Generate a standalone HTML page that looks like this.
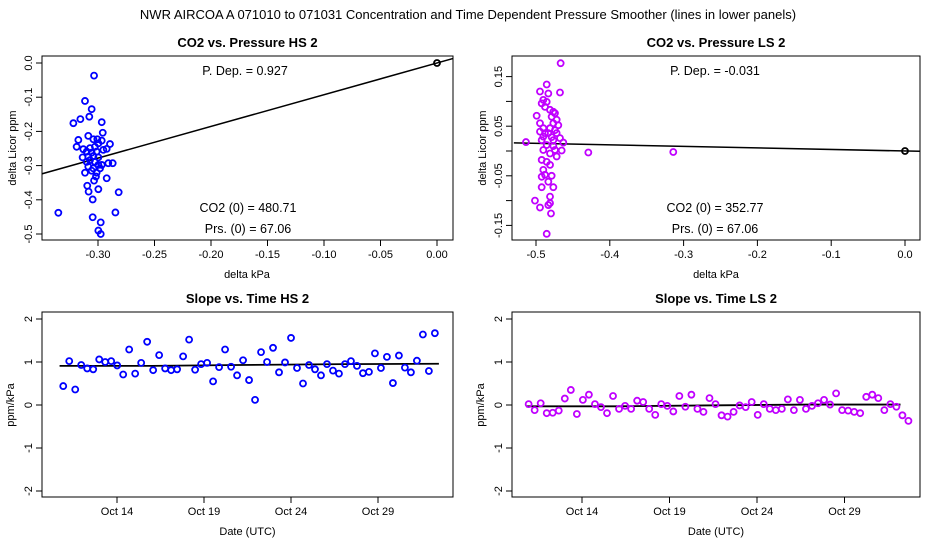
<!DOCTYPE html>
<html><head><meta charset="utf-8"><style>
body{margin:0;background:#fff;}
svg{display:block;font-family:"Liberation Sans",Arial,sans-serif;}
.tk{font-size:11px;fill:#000;}
.ann{font-size:12.5px;fill:#000;}
.ttl{font-size:13px;font-weight:bold;}
</style></head><body>
<svg id="c" width="936" height="540" viewBox="0 0 936 540">
<text x="468" y="19" text-anchor="middle" font-size="13">NWR   AIRCOA A   071010 to 071031   Concentration and Time Dependent Pressure Smoother (lines in lower panels)</text>
</svg>
<script>
// ---- data ----
const hsPrs=[-0.3035,-0.3115,-0.3056,-0.3077,-0.3156,-0.3218,-0.2967,-0.2958,-0.3086,-0.3174,-0.3041,-0.3006,-0.2967,-0.2894,-0.3189,-0.3130,-0.3071,-0.3027,-0.2997,-0.2923,-0.3100,-0.3056,-0.3012,-0.2953,-0.3136,-0.3086,-0.3041,-0.2997,-0.3071,-0.3027,-0.3100,-0.2967,-0.2909,-0.2870,-0.2997,-0.3086,-0.3041,-0.2982,-0.3115,-0.3056,-0.3012,-0.3035,-0.3018,-0.2923,-0.3095,-0.3083,-0.2997,-0.2817,-0.3047,-0.3351,-0.3047,-0.2846,-0.2976,-0.2997,-0.2976];
const hsCo2=[-0.037,-0.111,-0.135,-0.157,-0.164,-0.176,-0.173,-0.204,-0.213,-0.225,-0.223,-0.223,-0.227,-0.237,-0.245,-0.252,-0.249,-0.245,-0.235,-0.251,-0.259,-0.262,-0.259,-0.254,-0.276,-0.274,-0.272,-0.276,-0.284,-0.289,-0.289,-0.298,-0.293,-0.293,-0.298,-0.303,-0.308,-0.308,-0.321,-0.315,-0.321,-0.344,-0.332,-0.337,-0.359,-0.376,-0.369,-0.378,-0.399,-0.438,-0.451,-0.437,-0.466,-0.490,-0.500];
const hsSlope=0.927;
const lsPrs=[-0.4666,-0.4855,-0.4946,-0.4675,-0.4833,-0.4901,-0.4855,-0.4923,-0.4878,-0.4810,-0.4765,-0.4991,-0.4743,-0.4788,-0.4720,-0.4946,-0.4765,-0.4698,-0.4901,-0.4810,-0.4743,-0.4946,-0.4878,-0.4833,-0.4720,-0.4901,-0.4788,-0.4675,-0.4923,-0.4765,-0.5136,-0.4630,-0.4855,-0.4765,-0.4901,-0.4743,-0.4652,-0.4291,-0.4810,-0.4720,-0.4923,-0.4855,-0.4810,-0.4901,-0.4878,-0.4923,-0.4788,-0.4833,-0.4765,-0.4923,-0.4810,-0.5014,-0.4946,-0.4810,-0.4833,-0.4797,-0.4855,-0.314];
const lsCo2=[0.177,0.134,0.120,0.118,0.116,0.103,0.099,0.096,0.089,0.083,0.079,0.071,0.076,0.069,0.063,0.056,0.056,0.052,0.046,0.046,0.042,0.039,0.036,0.036,0.036,0.029,0.028,0.026,0.022,0.022,0.018,0.017,0.012,0.010,0.002,0.002,0.001,-0.003,-0.005,-0.011,-0.018,-0.022,-0.028,-0.038,-0.048,-0.052,-0.050,-0.062,-0.073,-0.073,-0.092,-0.100,-0.114,-0.105,-0.109,-0.126,-0.167,-0.002];
const lsSlope=-0.031;
const hsSlopeVals=[0.44,1.02,0.36,0.93,0.85,0.83,1.06,1.00,1.02,0.92,0.71,1.29,0.73,0.98,1.47,0.81,1.16,0.85,0.81,0.83,1.13,1.52,0.82,0.95,0.98,0.55,0.88,1.29,0.89,0.69,1.04,0.58,0.12,1.23,1.00,1.33,0.76,0.99,1.56,0.86,0.50,0.93,0.83,0.69,0.95,0.80,0.73,0.95,1.02,0.91,0.74,0.77,1.20,0.86,1.12,0.51,1.15,0.87,0.76,1.03,1.64,0.79,1.67];
const lsSlopeVals=[0.02,-0.12,0.04,-0.19,-0.18,-0.13,0.15,0.35,-0.21,0.12,0.24,0.02,-0.05,-0.19,0.21,-0.09,-0.02,-0.09,0.10,0.07,-0.09,-0.23,0.02,-0.02,-0.15,0.21,-0.04,0.24,-0.09,-0.16,0.16,0.02,-0.24,-0.27,-0.16,-0.01,-0.05,0.07,-0.23,0.02,-0.09,-0.12,-0.09,0.13,-0.12,0.12,-0.09,-0.02,0.04,0.12,0.01,0.27,-0.12,-0.13,-0.16,-0.19,0.19,0.24,0.16,-0.12,0.02,-0.04,-0.24,-0.37];
const hsSmoothT=[10.7,16.0,21.0,27.0,32.5];
const hsSmoothV=[0.91,0.91,0.93,0.95,0.96];
const lsSmoothT=[10.8,16.0,21.0,27.0,32.2];
const lsSmoothV=[-0.03,-0.03,-0.01,0.01,0.01];
const dateTicks=[14,19,24,29];
const dateLabels=["Oct 14","Oct 19","Oct 24","Oct 29"];
const NS='http://www.w3.org/2000/svg';
const svg=document.getElementById('c');
function mk(tag,attrs,parent){const e=document.createElementNS(NS,tag);for(const k in attrs)e.setAttribute(k,attrs[k]);(parent||svg).appendChild(e);return e;}
function txt(x,y,s,cls,anchor,rot,parent){const t=mk('text',{x:x,y:y,'text-anchor':anchor||'middle',class:cls||'tk'},parent);if(rot)t.setAttribute('transform','rotate(-90 '+x+' '+y+')');t.textContent=s;return t;}
function ann(x,y,s,g){const t=txt(x,y,s,'ann','middle',false,g);return t;}
function panel(name,x0,y0,x1,y1,title){
 const g=mk('g',{});
 
 
 const r=mk('rect',{x:x0,y:y0,width:x1-x0,height:y1-y0,fill:'none',stroke:'#000','stroke-width':1},g);
 
 
 const t=txt((x0+x1)/2,y0-9,title,'ttl','middle',false,g);
 
 
 return g;}
function xtick(g,x,y,lab){mk('line',{x1:x,x2:x,y1:y,y2:y+6,stroke:'#000'},g);if(lab!==null){const t=txt(x,y+18,lab,'tk','middle',false,g);}}
function ytick(g,x,y,lab){mk('line',{x1:x,x2:x-6,y1:y,y2:y,stroke:'#000'},g);if(lab!==null){const t=txt(x-10,y,lab,'tk','middle',true,g);}}
function pt(g,x,y,col,r){const c=mk('circle',{cx:x,cy:y,r:r||3,fill:'none',stroke:col,'stroke-width':1.8},g);return c;}

// ---- Panel 1: HS scatter ----
{const x0=42,x1=453,y0=56,y1=240;const g=panel('panel-co2-vs-pressure-hs',x0,y0,x1,y1,'CO2 vs. Pressure HS 2');
 const X=v=>437+v*1130, Y=v=>63-v*342;
 [-0.30,-0.25,-0.20,-0.15,-0.10,-0.05,0].forEach(v=>xtick(g,X(v),y1,v.toFixed(2)));
 [0,-0.1,-0.2,-0.3,-0.4,-0.5].forEach(v=>ytick(g,x0,Y(v),v.toFixed(1)));
 const cp=mk('clipPath',{id:'cp1'},g);mk('rect',{x:x0,y:y0,width:x1-x0,height:y1-y0},cp);
 const l=mk('line',{x1:X(-0.35),y1:Y(-0.35*hsSlope),x2:X(0.015),y2:Y(0.015*hsSlope),stroke:'#000','stroke-width':1.5,'clip-path':'url(#cp1)'},g);
 
 hsPrs.forEach((p,i)=>pt(g,X(p),Y(hsCo2[i]),'#0000ff'));
 pt(g,X(0),Y(0),'#000');
 ann(245,75,'P. Dep. =  0.927',g);
 ann(248,212,'CO2 (0) =  480.71',g);
 ann(248,233,'Prs. (0) =  67.06',g);
 const a=txt(247,278,'delta kPa','tk','middle',false,g);
 const b=txt(16,148,'delta Licor ppm','tk','middle',true,g);}

// ---- Panel 2: LS scatter ----
{const x0=512,x1=920,y0=56,y1=240;const g=panel('panel-co2-vs-pressure-ls',x0,y0,x1,y1,'CO2 vs. Pressure LS 2');
 const X=v=>905+v*738, Y=v=>151-v*496;
 [-0.5,-0.4,-0.3,-0.2,-0.1,0].forEach(v=>xtick(g,X(v),y1,v.toFixed(1)));
 [0.15,0.10,0.05,0,-0.05,-0.10,-0.15].forEach((v,i)=>ytick(g,x0,Y(v),i%2===0?v.toFixed(2):null));
 const l=mk('line',{x1:X(-0.53),y1:Y(-0.53*lsSlope),x2:X(0.02),y2:Y(0.02*lsSlope),stroke:'#000','stroke-width':1.5},g);
 
 lsPrs.forEach((p,i)=>pt(g,X(p),Y(lsCo2[i]),'#c000ff'));
 pt(g,X(0),Y(0),'#000');
 ann(715,75,'P. Dep. =  -0.031',g);
 ann(715,212,'CO2 (0) =  352.77',g);
 ann(715,233,'Prs. (0) =  67.06',g);
 const a=txt(716,278,'delta kPa','tk','middle',false,g);
 const b=txt(486,148,'delta Licor ppm','tk','middle',true,g);}

// ---- Panels 3/4: slope vs time ----
function timePanel(name,title,x0,x1,xd0,pxDay,t0,vals,sT,sV,col,yl){
 const y0=312,y1=497;const g=panel(name,x0,y0,x1,y1,title);
 const X=d=>xd0+(d-14)*pxDay, Y=v=>405-v*43;
 dateTicks.forEach((d,i)=>xtick(g,X(d),y1,dateLabels[i]));
 [2,1,0,-1,-2].forEach(v=>ytick(g,x0,Y(v),String(v)));
 const pts=sT.map((t,i)=>X(t)+','+Y(sV[i])).join(' ');
 const l=mk('polyline',{points:pts,fill:'none',stroke:'#000','stroke-width':1.8},g);
 
 vals.forEach((v,i)=>pt(g,X(t0+i*0.3445),Y(v),col));
 const a=txt((x0+x1)/2,535,'Date (UTC)','tk','middle',false,g);
 const b=txt(yl,405,'ppm/kPa','tk','middle',true,g);}
timePanel('panel-slope-vs-time-hs','Slope vs. Time HS 2',42,453,117,17.4,10.91,hsSlopeVals,hsSmoothT,hsSmoothV,'#0000ff',14);
timePanel('panel-slope-vs-time-ls','Slope vs. Time LS 2',512,920,582,17.5,10.95,lsSlopeVals,lsSmoothT,lsSmoothV,'#c000ff',484);
</script>
</body></html>
